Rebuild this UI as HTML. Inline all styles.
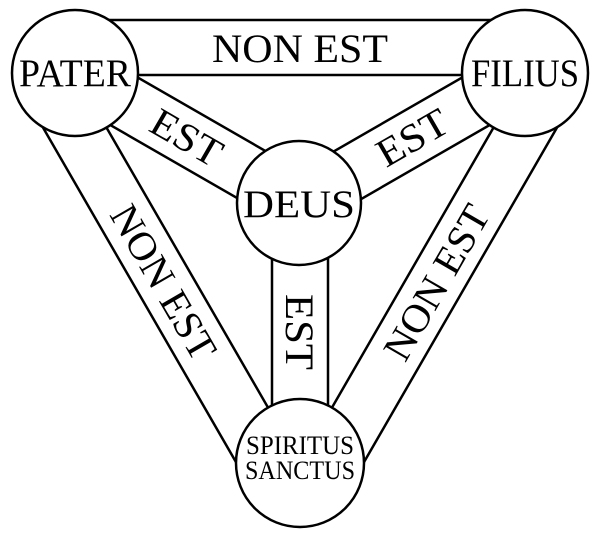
<!DOCTYPE html>
<html><head><style>html,body{margin:0;padding:0;background:#fff}svg{display:block}text{font-family:"Liberation Serif","Times New Roman",serif}</style></head>
<body>
<svg width="600" height="536" viewBox="0 0 600 536" xmlns="http://www.w3.org/2000/svg">
<g fill="#fff" stroke="#000" stroke-width="2.5">
<polygon points="75,20 525,20 525,75 75,75"/>
<polygon points="75,73 300,463 252.4,490.5 27.4,100.5"/>
<polygon points="525,73 300,463 347.6,490.5 572.6,100.5"/>
<polygon points="88.7,49.2 312.7,178.2 285.3,225.8 61.3,96.8"/>
<polygon points="511.3,49.2 287.3,178.2 314.7,225.8 538.7,96.8"/>
<rect x="272" y="202" width="56" height="261"/>
<circle cx="75" cy="73" r="63"/>
<circle cx="525" cy="73" r="63"/>
<circle cx="299" cy="203" r="62"/>
<circle cx="300" cy="463" r="64"/>
</g>
<g fill="#000" text-anchor="middle">
<text x="75" y="86" font-size="39" textLength="112" lengthAdjust="spacingAndGlyphs">PATER</text>
<text x="525" y="86" font-size="39" textLength="108" lengthAdjust="spacingAndGlyphs">FILIUS</text>
<text x="299" y="217" font-size="39" textLength="112" lengthAdjust="spacingAndGlyphs">DEUS</text>
<text x="300" y="454" font-size="26" textLength="108" lengthAdjust="spacingAndGlyphs">SPIRITUS</text>
<text x="300" y="479" font-size="26" textLength="110" lengthAdjust="spacingAndGlyphs">SANCTUS</text>
<text x="300" y="62" font-size="40" textLength="176" lengthAdjust="spacingAndGlyphs">NON EST</text>
<text transform="translate(187,137) rotate(30)" y="14" font-size="40" textLength="76" lengthAdjust="spacingAndGlyphs">EST</text>
<text transform="translate(412,137) rotate(-30)" y="14" font-size="40" textLength="76" lengthAdjust="spacingAndGlyphs">EST</text>
<text transform="translate(300,332) rotate(90)" y="14" font-size="40" textLength="76" lengthAdjust="spacingAndGlyphs">EST</text>
<text transform="translate(164,282) rotate(60)" y="14" font-size="40" textLength="172" lengthAdjust="spacingAndGlyphs">NON EST</text>
<text transform="translate(436,282) rotate(-60)" y="14" font-size="40" textLength="172" lengthAdjust="spacingAndGlyphs">NON EST</text>
</g>
</svg>
</body></html>
